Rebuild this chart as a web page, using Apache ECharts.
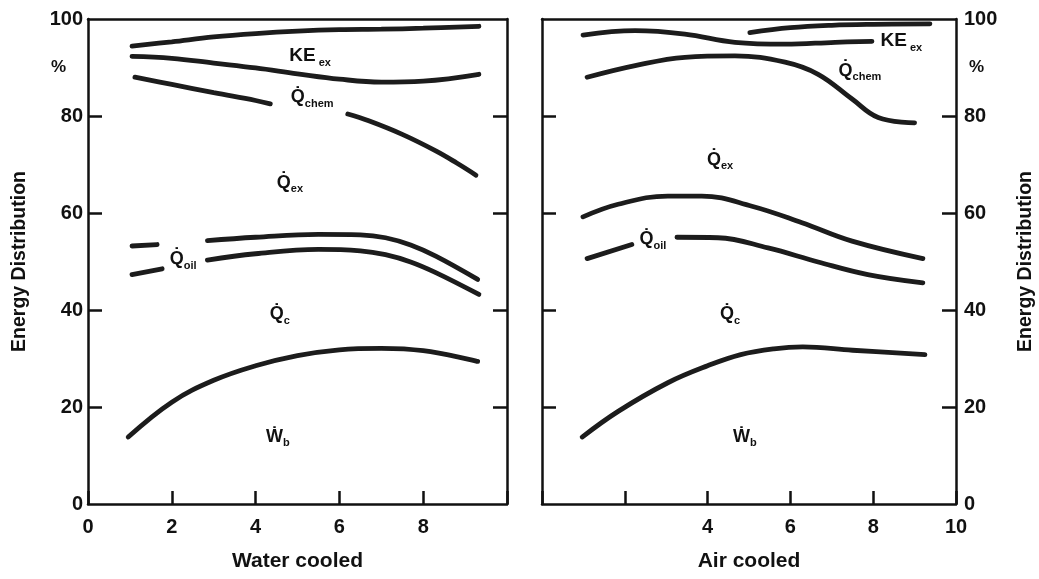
<!DOCTYPE html>
<html><head><meta charset="utf-8">
<script src="https://cdn.jsdelivr.net/npm/echarts@6/dist/echarts.min.js"></script>
<style>html,body{margin:0;padding:0;background:#fff}#c{width:1039px;height:579px}</style>
</head><body><div id="c"></div>
<script>
// ---------- Water cooled (left panel) ----------
const wKEtopX  = [1.05, 2, 3, 4, 5, 6, 7, 8, 9.33];
const wKEtopY  = [94.4, 95.3, 96.3, 97.0, 97.5, 97.8, 97.9, 98.1, 98.5];
const wChemX   = [1.05, 2, 3, 4, 5, 6, 7, 8, 9.33];
const wChemY   = [92.3, 91.9, 90.9, 89.9, 88.7, 87.6, 87.0, 87.2, 88.6];
const wExX     = [1.12, 2, 3, 4, 4.35, 5.3, 6.2, 6.7, 7.5, 8.3, 8.8, 9.26];
const wExY     = [88.0, 86.5, 84.8, 83.2, 82.5, null, 80.4, 79.0, 76.2, 72.8, 70.3, 67.8];
const wOilTopX = [1.05, 1.65, 2.3, 2.85, 4, 5.5, 6.5, 7.1, 7.7, 8.3, 9.3];
const wOilTopY = [53.2, 53.5, null, 54.3, 55.0, 55.6, 55.5, 54.9, 53.4, 51.1, 46.3];
const wOilBotX = [1.05, 1.77, 2.3, 2.85, 4, 5.5, 6.5, 7.1, 7.7, 8.3, 9.33];
const wOilBotY = [47.3, 48.5, null, 50.3, 51.6, 52.5, 52.2, 51.4, 49.9, 47.7, 43.2];
const wWbX     = [0.96, 2, 3, 4, 5, 6, 7, 8, 9.3];
const wWbY     = [13.8, 21.0, 25.5, 28.5, 30.6, 31.8, 32.1, 31.6, 29.4];

// ---------- Air cooled (right panel) ----------
const aKEtopX  = [5.02, 6, 7, 8, 9.37];
const aKEtopY  = [97.2, 98.2, 98.7, 98.9, 99.0];
const aChemX   = [0.99, 2.25, 3.45, 4.66, 5.87, 7.08, 7.97];
const aChemY   = [96.7, 97.6, 96.9, 95.2, 94.8, 95.2, 95.4];
const aExX     = [1.09, 2.25, 3.45, 4.66, 5.87, 6.67, 7.49, 8.12, 9.0];
const aExY     = [88.0, 90.4, 92.1, 92.4, 91.1, 88.6, 83.5, 79.7, 78.6];
const aOilTopX = [0.99, 1.84, 3.04, 3.86, 5.07, 6.28, 7.49, 9.2];
const aOilTopY = [59.2, 61.8, 63.5, 63.5, 61.4, 58.0, 54.2, 50.6];
const aOilBotX = [1.09, 2.17, 2.7, 3.26, 4.25, 5.46, 6.67, 7.87, 9.2];
const aOilBotY = [50.6, 53.5, null, 55.0, 54.9, 52.8, 49.9, 47.3, 45.6];
const aWbX     = [0.97, 1.84, 3.04, 4.0, 4.8, 5.6, 6.3, 7.5, 9.25];
const aWbY     = [13.8, 19.1, 25.0, 28.5, 30.8, 32.0, 32.4, 31.7, 30.8];

// ---------- axes / texts ----------
const xTicks = [0, 2, 4, 6, 8, 10];
const yLabelValues = [0, 20, 40, 60, 80, 90, 100];
const yTickValues = [20, 40, 60, 80];
const leftXLabels = ['0', '2', '4', '6', '8', ''];
const rightXLabels = ['', '', '4', '6', '8', '10'];
const yName = 'Energy Distribution';
const xNames = ['Water cooled', 'Air cooled'];

// region labels: [x, y, text]
const waterLabels = [
  [5.3, 92.1, '{k|KE}{s| ex}'],
  [5.35, 83.5, '{q|Q\u0307}{s|chem}'],
  [4.82, 65.9, '{q|Q\u0307}{s|ex}'],
  [2.27, 50.2, '{q|Q\u0307}{s|oil}'],
  [4.58, 38.8, '{q|Q\u0307}{s|c}'],
  [4.53, 13.6, '{q|\u1E86}{s|b}']
];
const airLabels = [
  [8.68, 95.2, '{k|KE}{s| ex}'],
  [7.68, 89.0, '{q|Q\u0307}{s|chem}'],
  [4.3, 70.7, '{q|Q\u0307}{s|ex}'],
  [2.68, 54.3, '{q|Q\u0307}{s|oil}'],
  [4.54, 38.8, '{q|Q\u0307}{s|c}'],
  [4.9, 13.6, '{q|\u1E86}{s|b}']
];

const INK = '#111111';
const FONT = 'Liberation Sans, Arial, DejaVu Sans, sans-serif';
const pairs = (xs, ys) => xs.map((x, i) => [x, ys[i]]);

function lineSeries(xs, ys, g) {
  return {
    type: 'line', xAxisIndex: g * 2, yAxisIndex: g * 2,
    data: pairs(xs, ys), smooth: 0.4, showSymbol: false, symbol: 'none',
    connectNulls: false, silent: true,
    lineStyle: { color: '#1c1c1c', width: 4.8, cap: 'round' }
  };
}
const richBase = { fontWeight: 'bold', fontFamily: FONT, color: INK, textBorderWidth: 0, verticalAlign: 'bottom' };
function labelSeries(list, g) {
  return {
    type: 'scatter', xAxisIndex: g * 2, yAxisIndex: g * 2, silent: true,
    symbolSize: 1, itemStyle: { color: 'rgba(255,255,255,0)' },
    data: list,
    label: {
      show: true, position: 'inside', formatter: p => p.data[2],
      color: INK, textBorderWidth: 0, opacity: 1,
      rich: {
        k: Object.assign({}, richBase, { fontSize: 19, padding: [0, 0, 3, 0] }),
        q: Object.assign({}, richBase, { fontSize: 18, padding: [0, 0, 3, 0] }),
        s: Object.assign({}, richBase, { fontSize: 11 })
      }
    }
  };
}

const lineW = 2.5;
function xAxisPair(g, labels, name) {
  return [
    {
      gridIndex: g, type: 'value', min: 0, max: 10, interval: 2, position: 'bottom',
      axisLine: { show: true, onZero: false, lineStyle: { color: INK, width: lineW } },
      axisTick: { show: true, inside: true, length: 13, lineStyle: { color: INK, width: lineW } },
      axisLabel: { formatter: v => labels[xTicks.indexOf(v)], fontSize: 20, fontWeight: 'bold', fontFamily: FONT, color: INK, margin: 13 },
      splitLine: { show: false },
      name: name, nameLocation: 'middle', nameGap: 47,
      nameTextStyle: { fontSize: 21, fontWeight: 'bold', fontFamily: FONT, color: INK }
    },
    {
      gridIndex: g, type: 'value', min: 0, max: 10, interval: 2, position: 'top',
      axisLine: { show: true, onZero: false, lineStyle: { color: INK, width: lineW } },
      axisTick: { show: false }, axisLabel: { show: false }, splitLine: { show: false }
    }
  ];
}
function yAxisPair(g, labelSide) {
  const labeled = (pos) => ({
    gridIndex: g, type: 'value', min: 0, max: 100, interval: 20, position: pos,
    axisLine: { show: true, onZero: false, lineStyle: { color: INK, width: lineW } },
    axisTick: { show: true, inside: true, length: 14, customValues: yTickValues, lineStyle: { color: INK, width: lineW } },
    axisLabel: {
      show: true, customValues: yLabelValues, fontSize: 20, fontWeight: 'bold', fontFamily: FONT, color: INK,
      margin: pos === 'left' ? 5 : 8,
      formatter: v => v === 90 ? '{p|%}' : String(v),
      rich: { p: { fontSize: 17, fontWeight: 'bold', fontFamily: FONT, color: INK, padding: pos === 'left' ? [0, 17, 0, 0] : [0, 0, 0, 5] } }
    },
    splitLine: { show: false },
    name: yName, nameLocation: 'middle', nameGap: pos === 'left' ? 58 : 60, nameRotate: 90,
    nameTextStyle: { fontSize: 19.5, fontWeight: 'bold', fontFamily: FONT, color: INK }
  });
  const plain = (pos) => ({
    gridIndex: g, type: 'value', min: 0, max: 100, interval: 20, position: pos,
    axisLine: { show: true, onZero: false, lineStyle: { color: INK, width: lineW } },
    axisTick: { show: true, inside: true, length: 14, customValues: yTickValues, lineStyle: { color: INK, width: lineW } },
    axisLabel: { show: false }, splitLine: { show: false }
  });
  return labelSide === 'left' ? [labeled('left'), plain('right')] : [plain('left'), labeled('right')];
}

const chart = echarts.init(document.getElementById('c'), null, { renderer: 'canvas' });
chart.setOption({
  backgroundColor: '#ffffff',
  animation: false,
  grid: [
    { left: 88, top: 19, width: 419, height: 485 },
    { left: 542, top: 19, width: 414, height: 485 }
  ],
  xAxis: [...xAxisPair(0, leftXLabels, xNames[0]), ...xAxisPair(1, rightXLabels, xNames[1])],
  yAxis: [...yAxisPair(0, 'left'), ...yAxisPair(1, 'right')],
  series: [
    lineSeries(wKEtopX, wKEtopY, 0),
    lineSeries(wChemX, wChemY, 0),
    lineSeries(wExX, wExY, 0),
    lineSeries(wOilTopX, wOilTopY, 0),
    lineSeries(wOilBotX, wOilBotY, 0),
    lineSeries(wWbX, wWbY, 0),
    lineSeries(aKEtopX, aKEtopY, 1),
    lineSeries(aChemX, aChemY, 1),
    lineSeries(aExX, aExY, 1),
    lineSeries(aOilTopX, aOilTopY, 1),
    lineSeries(aOilBotX, aOilBotY, 1),
    lineSeries(aWbX, aWbY, 1),
    labelSeries(waterLabels, 0),
    labelSeries(airLabels, 1)
  ]
});
</script></body></html>
